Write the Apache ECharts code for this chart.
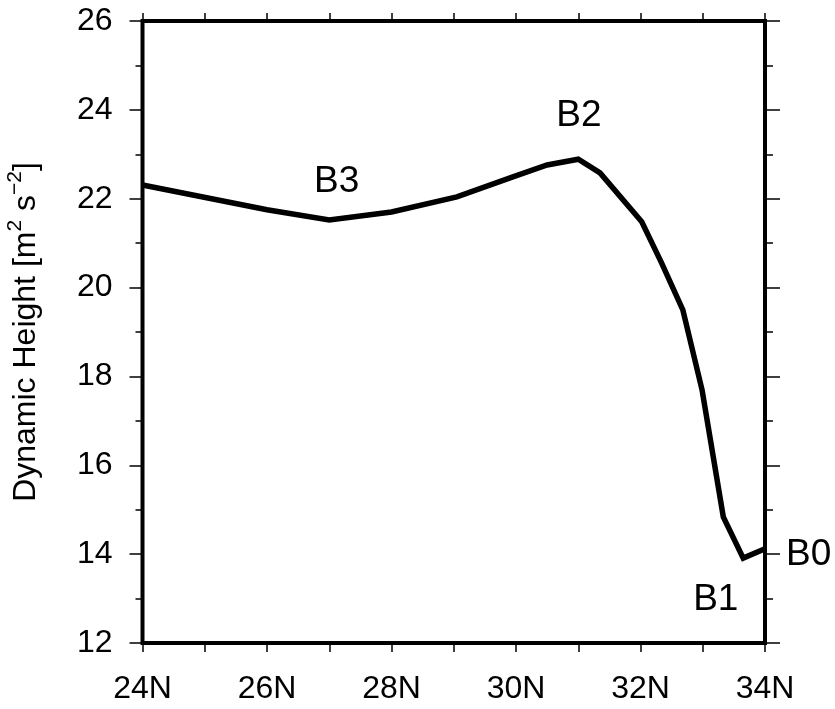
<!DOCTYPE html>
<html>
<head>
<meta charset="utf-8">
<script src="https://cdn.jsdelivr.net/npm/echarts@6/dist/echarts.min.js"></script>
<style>
  html, body { margin: 0; padding: 0; background: #fff; }
  #chart { width: 835px; height: 709px; }
</style>
</head>
<body>
<div id="chart"></div>
<script>
// Dynamic height along the section, by latitude (degrees N)
const latitudes = [24, 26, 27, 28, 29.05, 29.95, 30.5, 31, 31.35, 32.02, 32.34, 32.68, 32.99, 33.33, 33.65, 34];
const dynHeight = [22.31, 21.75, 21.52, 21.7, 22.04, 22.49, 22.76, 22.89, 22.58, 21.48, 20.55, 19.5, 17.69, 14.84, 13.91, 14.12];

// Station labels and where they sit (latitude, dynamic height)
const stationNames = ['B3', 'B2', 'B1', 'B0'];
const stationLat = [27.12, 31.01, 33.21, 34.7];
const stationVal = [22.38, 23.86, 12.97, 13.98];

const FONT = 'Liberation Sans, Arial, Helvetica, sans-serif';

const chart = echarts.init(document.getElementById('chart'), null, { renderer: 'canvas' });

const lineData = latitudes.map((x, i) => [x, dynHeight[i]]);
const labelData = stationNames.map((n, i) => ({ name: n, value: [stationLat[i], stationVal[i]] }));

chart.setOption({
  animation: false,
  backgroundColor: '#ffffff',
  grid: {
    left: 142.5, top: 21, right: 70, bottom: 66,
    outerBoundsMode: 'none',
    containLabel: false,
    show: true, borderColor: '#000', borderWidth: 4, backgroundColor: 'transparent'
  },
  xAxis: [
    {
      type: 'value', position: 'bottom', min: 24, max: 34, interval: 1,
      axisLine: { show: false },
      axisTick: { show: true, length: 9, inside: false, lineStyle: { color: '#000', width: 1.5 } },
      axisLabel: {
        margin: 30, fontSize: 32, color: '#000', fontFamily: FONT,
        formatter: v => (Math.round(v) % 2 === 0 ? Math.round(v) + 'N' : '')
      },
      splitLine: { show: false }
    },
    {
      type: 'value', position: 'top', min: 24, max: 34, interval: 1,
      axisLine: { show: false },
      axisTick: { show: true, length: 8, inside: false, lineStyle: { color: '#000', width: 1.5 } },
      axisLabel: { show: false },
      splitLine: { show: false }
    }
  ],
  yAxis: [
    {
      type: 'value', position: 'left', min: 12, max: 26, interval: 2,
      axisLine: { show: false },
      axisTick: { show: true, length: 13, inside: false, lineStyle: { color: '#000', width: 1.5 } },
      minorTick: { show: true, splitNumber: 2, length: 7, lineStyle: { color: '#000', width: 1.5 } },
      axisLabel: { margin: 30, fontSize: 32, color: '#000', fontFamily: FONT },
      splitLine: { show: false },
      name: '{t|Dynamic Height [m}{s|2}{t| s}{s|\u22122}{t|]}',
      nameLocation: 'middle',
      nameRotate: 90,
      nameGap: 100,
      nameTextStyle: {
        fontFamily: FONT, color: '#000',
        rich: {
          t: { fontSize: 32, fontFamily: FONT, color: '#000', lineHeight: 38, verticalAlign: 'bottom' },
          s: { fontSize: 21, fontFamily: FONT, color: '#000', lineHeight: 38, verticalAlign: 'top' }
        }
      }
    },
    {
      type: 'value', position: 'right', min: 12, max: 26, interval: 2,
      axisLine: { show: false },
      axisTick: { show: true, length: 15, inside: false, lineStyle: { color: '#000', width: 1.5 } },
      minorTick: { show: true, splitNumber: 2, length: 8, lineStyle: { color: '#000', width: 1.5 } },
      axisLabel: { show: false },
      splitLine: { show: false }
    }
  ],
  series: [
    {
      type: 'line',
      data: lineData,
      xAxisIndex: 0, yAxisIndex: 0,
      symbol: 'none',
      lineStyle: { color: '#000', width: 5.5, join: 'miter', cap: 'butt' },
      z: 3
    },
    {
      type: 'scatter',
      data: labelData,
      xAxisIndex: 0, yAxisIndex: 0,
      symbolSize: 0,
      clip: false,
      silent: true,
      itemStyle: { opacity: 1, color: '#000' },
      label: {
        show: true, position: 'inside', formatter: '{b}', opacity: 1,
        fontSize: 37, fontFamily: FONT, color: '#000', textBorderWidth: 0
      },
      z: 4
    }
  ]
});
</script>
</body>
</html>
